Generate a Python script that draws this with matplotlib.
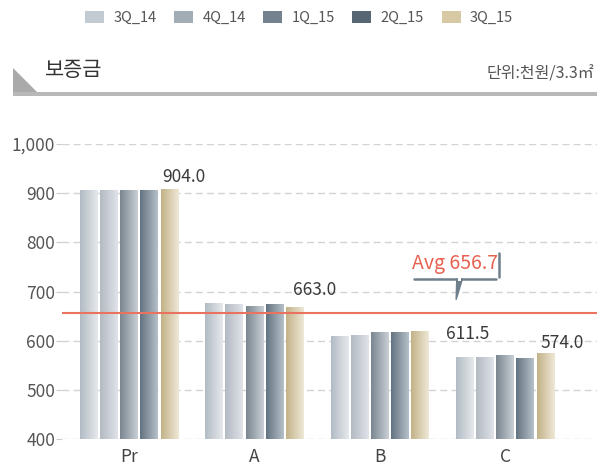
import numpy as np
import matplotlib
matplotlib.use("Agg")
import matplotlib.pyplot as plt
from matplotlib.colors import LinearSegmentedColormap
from matplotlib.patches import Patch, Polygon, Rectangle

plt.rcParams['font.family'] = ['Noto Sans CJK KR', 'DejaVu Sans']
plt.rcParams['font.weight'] = 'light'

#%% data
groups = ["Pr", "A", "B", "C"]
series = ["3Q_14", "4Q_14", "1Q_15", "2Q_15", "3Q_15"]
q3_14 = [906, 676, 610, 567]
q4_14 = [906, 675, 612, 567]
q1_15 = [906, 670, 617, 572]
q2_15 = [906, 674, 619, 565]
q3_15 = [908, 668, 621, 575]
value_labels = ["904.0", "663.0", "611.5", "574.0"]
avg = 656.7

#%% style
colors = ["#c3cbd2", "#a2acb5", "#73828e", "#566773", "#d6c9a3"]
left_cols = ["#b2bbc4", "#b3bac3", "#7a8690", "#637381", "#c3b288"]
right_cols = ["#e6e9ec", "#e0e3e8", "#c9cfd5", "#b6c0c8", "#eee8d6"]
# label offsets (x from group centre, y from bar top)
lab_dx = [0.44, 0.48, 0.70, 0.46]
lab_dy = [25, 35, -7, 21]

W, H = 606, 465
fig = plt.figure(figsize=(W / 100, H / 100), dpi=100)

def fx(px):
    return px / W

def fy(py):
    return 1 - py / H

ax = fig.add_axes([fx(62), fy(439.3), fx(597) - fx(62), fy(144) - fy(439.3)])

x = np.arange(len(groups))
pitch = 0.161
bw = 0.14
vals = [q3_14, q4_14, q1_15, q2_15, q3_15]
grad = np.linspace(0, 1, 64).reshape(1, -1)
for i, v in enumerate(vals):
    pos = x + (i - 2) * pitch
    bars = ax.bar(pos, np.array(v) - 400, bottom=400, width=bw, color=colors[i], zorder=3)
    cmap = LinearSegmentedColormap.from_list("g%d" % i, [left_cols[i], right_cols[i]])
    for b in bars:
        x0, y0 = b.get_x(), b.get_y()
        im = ax.imshow(grad, cmap=cmap, aspect="auto", zorder=3.5, interpolation="bilinear",
                       extent=[x0, x0 + b.get_width(), y0, y0 + b.get_height()])
        im.set_clip_path(b)

for j, g in enumerate(groups):
    ax.text(x[j] + lab_dx[j], q3_15[j] + lab_dy[j], value_labels[j], ha="center", va="center",
            fontsize=12.5, color="#3a3a3a", zorder=5)

ax.axhline(avg, color="#e9735f", lw=1.5, zorder=4)

# average callout
tx, ty = 2.60, avg + 101
ax.text(tx, ty, "Avg 656.7", ha="center", va="center", fontsize=14, color="#e8604f", zorder=6)
bub = "#6f7f8c"
yb = avg + 69
ax.plot([2.27, 2.93], [yb, yb], color=bub, lw=1.8, zorder=6, solid_capstyle="round")
ax.plot([2.95, 2.95], [yb + 4, avg + 122], color=bub, lw=1.8, zorder=6, solid_capstyle="round")
ax.add_patch(Polygon([[2.615, yb], [2.66, yb], [2.61, avg + 27]], closed=True,
                     facecolor=bub, edgecolor=bub, lw=1, zorder=6))
ax.add_patch(Rectangle((2.622, yb - 4), 0.03, 6, facecolor="white", edgecolor="none", zorder=6.5))

ax.set_xlim(-0.535, 3.734)
ax.set_ylim(400, 1000)
ax.set_yticks(range(400, 1001, 100))
ax.set_yticklabels(["{:,}".format(t) for t in range(400, 1001, 100)])
ax.set_xticks(x)
ax.set_xticklabels(groups)
ax.grid(axis="y", color="#d3d3d3", lw=1, linestyle=(0, (5, 3)), zorder=0)
for s in ax.spines.values():
    s.set_visible(False)
ax.tick_params(axis="y", length=4, color="#cccccc", pad=1, labelsize=12.5, labelcolor="#555555")
ax.tick_params(axis="x", length=0, pad=6, labelsize=12.5, labelcolor="#444444")

# header
fig.text(fx(45), fy(70), "보증금", fontsize=15, color="#333333", va="center", ha="left")
fig.text(fx(594), fy(74), "단위:천원/3.3㎡", fontsize=11.5, color="#555555", va="center", ha="right")
fig.patches.append(Polygon([[fx(13), fy(68)], [fx(13), fy(95)], [fx(40), fy(95)]], closed=True,
                           transform=fig.transFigure, facecolor="#aaaaaa", edgecolor="none"))
fig.patches.append(Rectangle((fx(13), fy(96)), fx(597) - fx(13), fy(92) - fy(96),
                             transform=fig.transFigure, facecolor="#b8b8b8", edgecolor="none"))

handles = [Patch(facecolor=c, edgecolor="none") for c in colors]
fig.legend(handles, series, loc="center", bbox_to_anchor=(fx(299), fy(18)), ncol=5, frameon=False,
           fontsize=10.5, handlelength=1.3, handleheight=0.95, handletextpad=0.65, columnspacing=1.2,
           labelcolor="#555555")

fig.savefig("out.png", dpi=100)
